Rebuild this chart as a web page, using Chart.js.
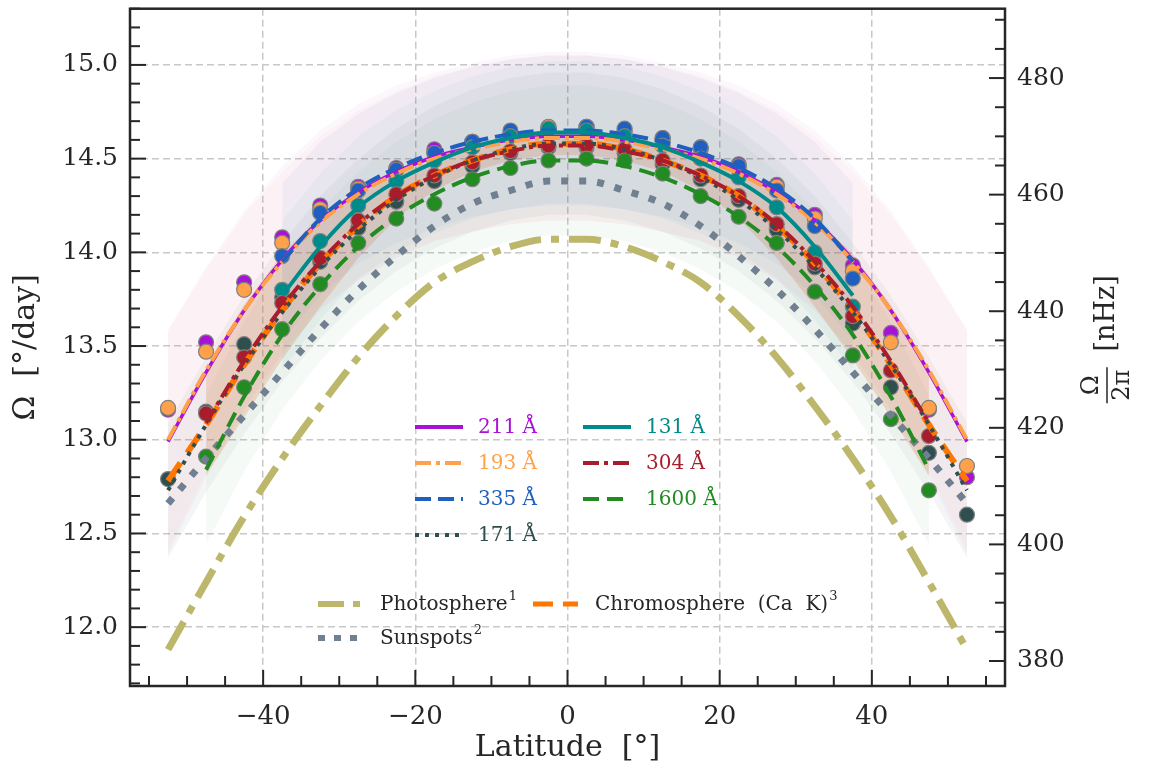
<!DOCTYPE html>
<html>
<head>
<meta charset="utf-8">
<script src="https://cdn.jsdelivr.net/npm/chart.js@4.4.1/dist/chart.umd.min.js"></script>
<style>
  html, body { margin: 0; padding: 0; background: #fff; }
  canvas { display: block; }
</style>
</head>
<body>
<canvas id="rotChart" width="1151" height="770"></canvas>
<script>
// measured latitudes (degrees) of the binned points
var latitudes = [-52.5, -47.5, -42.5, -37.5, -32.5, -27.5, -22.5, -17.5, -12.5, -7.5, -2.5,
                 2.5, 7.5, 12.5, 17.5, 22.5, 27.5, 32.5, 37.5, 42.5, 47.5, 52.5];

// rotation rates (deg/day) per wavelength, null where there is no bin
var pts211  = [13.16, 13.52, 13.84, 14.08, 14.25, 14.35, 14.45, 14.55, 14.59, 14.63, 14.66,
               14.67, 14.65, 14.61, 14.56, 14.47, 14.36, 14.20, 13.93, 13.57, 13.16, 12.80];
var pts193  = [13.17, 13.47, 13.80, 14.05, 14.23, 14.34, 14.44, 14.53, 14.59, 14.63, 14.67,
               14.66, 14.64, 14.60, 14.55, 14.45, 14.35, 14.18, 13.90, 13.52, 13.17, 12.86];
var pts335  = [null, null, null, 13.98, 14.21, 14.33, 14.44, 14.53, 14.59, 14.65, 14.66,
               14.67, 14.66, 14.61, 14.56, 14.46, 14.33, 14.14, 13.86, null, null, null];
var pts171  = [12.79, 13.15, 13.51, 13.76, 13.95, 14.13, 14.27, 14.38, 14.46, 14.53, 14.56,
               14.56, 14.53, 14.47, 14.39, 14.28, 14.12, 13.92, 13.62, 13.28, 12.93, 12.60];
var pts131  = [null, null, null, 13.80, 14.06, 14.25, 14.38, 14.49, 14.56, 14.62, 14.66,
               14.65, 14.62, 14.57, 14.50, 14.40, 14.24, 14.00, 13.71, null, null, null];
var pts304  = [null, 13.14, 13.44, 13.73, 13.97, 14.17, 14.31, 14.41, 14.48, 14.54, 14.57,
               14.57, 14.55, 14.49, 14.41, 14.30, 14.15, 13.94, 13.66, 13.37, 13.02, null];
var pts1600 = [null, 12.91, 13.28, 13.59, 13.83, 14.05, 14.18, 14.26, 14.39, 14.45, 14.49,
               14.50, 14.49, 14.42, 14.30, 14.19, 14.05, 13.79, 13.45, 13.11, 12.73, null];

// latitudes where the fitted profiles are sampled
var fitLatitudes = [-52.5, -47.5, -42.5, -37.5, -32.5, -27.5, -22.5, -17.5, -12.5, -7.5, -2.5, 0,
                    2.5, 7.5, 12.5, 17.5, 22.5, 27.5, 32.5, 37.5, 42.5, 47.5, 52.5];

var fit211  = [12.99, 13.36, 13.69, 13.96, 14.17, 14.32, 14.43, 14.51, 14.56, 14.60, 14.62, 14.62,
               14.62, 14.60, 14.56, 14.51, 14.43, 14.32, 14.17, 13.96, 13.69, 13.36, 12.99];
var fit193  = [13.00, 13.37, 13.69, 13.95, 14.16, 14.31, 14.42, 14.50, 14.55, 14.59, 14.61, 14.61,
               14.61, 14.59, 14.55, 14.50, 14.42, 14.31, 14.16, 13.95, 13.69, 13.37, 13.00];
var fit335  = [null, null, null, 13.95, 14.18, 14.34, 14.45, 14.53, 14.59, 14.63, 14.65, 14.65,
               14.65, 14.63, 14.59, 14.53, 14.45, 14.34, 14.18, 13.95, null, null, null];
var fit171  = [12.73, 13.08, 13.40, 13.68, 13.92, 14.12, 14.28, 14.40, 14.49, 14.55, 14.58, 14.58,
               14.58, 14.55, 14.49, 14.40, 14.28, 14.12, 13.92, 13.68, 13.40, 13.08, 12.73];
var fit131  = [null, null, null, 13.77, 14.03, 14.24, 14.38, 14.48, 14.56, 14.61, 14.64, 14.64,
               14.64, 14.61, 14.56, 14.48, 14.38, 14.24, 14.03, 13.77, null, null, null];
var fit304  = [null, 13.09, 13.42, 13.71, 13.95, 14.15, 14.30, 14.41, 14.49, 14.54, 14.57, 14.57,
               14.57, 14.54, 14.49, 14.41, 14.30, 14.15, 13.95, 13.71, 13.42, 13.09, null];
var fit1600 = [null, 12.84, 13.23, 13.56, 13.82, 14.03, 14.19, 14.31, 14.40, 14.46, 14.49, 14.49,
               14.49, 14.46, 14.40, 14.31, 14.19, 14.03, 13.82, 13.56, 13.23, 12.84, null];

// uncertainty of each fit (deg/day)
var err211  = [0.60, 0.56, 0.53, 0.50, 0.48, 0.47, 0.46, 0.45, 0.45, 0.45, 0.45, 0.45,
               0.45, 0.45, 0.45, 0.45, 0.46, 0.47, 0.48, 0.50, 0.53, 0.56, 0.60];
var err193  = [0.58, 0.54, 0.51, 0.48, 0.46, 0.45, 0.44, 0.44, 0.44, 0.44, 0.44, 0.44,
               0.44, 0.44, 0.44, 0.44, 0.44, 0.45, 0.46, 0.48, 0.51, 0.54, 0.58];
var err335  = [null, null, null, 0.42, 0.41, 0.40, 0.40, 0.40, 0.40, 0.40, 0.40, 0.40,
               0.40, 0.40, 0.40, 0.40, 0.40, 0.40, 0.41, 0.42, null, null, null];
var err171  = [0.36, 0.36, 0.37, 0.37, 0.38, 0.38, 0.38, 0.38, 0.38, 0.38, 0.38, 0.38,
               0.38, 0.38, 0.38, 0.38, 0.38, 0.38, 0.38, 0.37, 0.37, 0.36, 0.36];
var err131  = [null, null, null, 0.40, 0.39, 0.38, 0.38, 0.38, 0.38, 0.38, 0.38, 0.38,
               0.38, 0.38, 0.38, 0.38, 0.38, 0.38, 0.39, 0.40, null, null, null];
var err304  = [null, 0.28, 0.30, 0.28, 0.24, 0.18, 0.12, 0.08, 0.06, 0.05, 0.05, 0.05,
               0.05, 0.05, 0.06, 0.08, 0.12, 0.18, 0.24, 0.28, 0.30, 0.28, null];
var err1600 = [null, 0.40, 0.40, 0.40, 0.40, 0.40, 0.40, 0.40, 0.40, 0.40, 0.40, 0.40,
               0.40, 0.40, 0.40, 0.40, 0.40, 0.40, 0.40, 0.40, 0.40, 0.40, null];

// reference profiles from the literature
var photosphere  = [11.88, 12.24, 12.59, 12.90, 13.18, 13.44, 13.66, 13.84, 13.95, 14.03, 14.07, 14.07,
                    14.07, 14.03, 13.95, 13.84, 13.66, 13.44, 13.18, 12.90, 12.59, 12.24, 11.88];
var sunspots     = [12.66, 12.90, 13.13, 13.36, 13.59, 13.80, 13.98, 14.14, 14.26, 14.33, 14.38, 14.38,
                    14.38, 14.33, 14.26, 14.14, 13.98, 13.80, 13.59, 13.36, 13.13, 12.90, 12.66];
var chromosphere = [12.78, 13.08, 13.40, 13.69, 13.94, 14.14, 14.30, 14.41, 14.49, 14.55, 14.58, 14.58,
                    14.58, 14.55, 14.49, 14.41, 14.30, 14.14, 13.94, 13.69, 13.40, 13.08, 12.78];

var xTicks = [-40, -20, 0, 20, 40];
var yTicks = [12.0, 12.5, 13.0, 13.5, 14.0, 14.5, 15.0];
var nhzTicks = [380, 400, 420, 440, 460, 480];

// deg/day -> nHz
var NHZ = 1e9 / (360 * 86400);
var yMin = 11.686, yMax = 15.30;

var C211 = '#a812d6', C193 = '#ffa04a', C335 = '#1f5fbf', C171 = '#2f4f4f',
    C131 = '#008b8b', C304 = '#a81c2c', C1600 = '#228b22',
    CPHOTO = '#bdb76b', CSPOT = '#708090', CCHROMO = '#ff7700';

function xy(xs, ys, off) {
    var out = [];
    for (var i = 0; i < xs.length; i++) {
        if (ys[i] === null) continue;
        var d = off ? off[i] : 0;
        out.push({ x: xs[i], y: ys[i] + d });
    }
    return out;
}

function band(vals, errs, color) {
    var neg = errs.map(function (e) { return e === null ? null : -e; });
    return [
        { data: xy(fitLatitudes, vals, errs), fill: '+1', backgroundColor: color,
          borderWidth: 0, pointRadius: 0, tension: 0, order: 30 },
        { data: xy(fitLatitudes, vals, neg), fill: false, backgroundColor: color,
          borderWidth: 0, pointRadius: 0, tension: 0, order: 30 }
    ];
}

function fitLine(vals, color, width, dash, order) {
    return { data: xy(fitLatitudes, vals), borderColor: color, borderWidth: width,
             borderDash: dash, fill: false, pointRadius: 0,
             cubicInterpolationMode: 'monotone', order: order || 5 };
}

function dots(vals, color) {
    return { data: xy(latitudes, vals), showLine: false, pointRadius: 7.5,
             pointBackgroundColor: color, pointBorderColor: '#808080',
             pointBorderWidth: 1.2, order: 20 };
}

var datasets = [].concat(
    band(fit211, err211, 'rgba(168,18,214,0.04)'),
    band(fit193, err193, 'rgba(255,160,74,0.045)'),
    band(fit335, err335, 'rgba(31,95,191,0.05)'),
    band(fit171, err171, 'rgba(47,79,79,0.05)'),
    band(fit131, err131, 'rgba(0,128,128,0.05)'),
    band(fit304, err304, 'rgba(232,140,80,0.26)'),
    band(fit1600, err1600, 'rgba(34,139,34,0.04)'),
    [
        dots(pts1600, C1600), dots(pts304, C304), dots(pts131, C131), dots(pts171, C171),
        dots(pts335, C335), dots(pts193, C193), dots(pts211, C211),
        fitLine(photosphere, CPHOTO, 7, [32, 10, 8, 10], 8),
        fitLine(sunspots, CSPOT, 7, [7, 11], 8),
        fitLine(chromosphere, CCHROMO, 6, [22, 12], 8),
        fitLine(fit1600, C1600, 4, [16, 8]),
        fitLine(fit304, C304, 4, [16, 5, 4, 5]),
        fitLine(fit131, C131, 4, []),
        fitLine(fit171, C171, 4, [4, 6]),
        fitLine(fit335, C335, 4, [16, 7]),
        fitLine(fit193, C193, 4, [16, 5, 4, 5]),
        fitLine(fit211, C211, 3.5, [])
    ]
);

var FONT = '"DejaVu Serif", serif';
var INK = '#262626';

// inward ticks, frame, axis titles and the two in-plot legends
var decorations = {
    id: 'decorations',
    afterDraw: function (chart) {
        var ctx = chart.ctx, a = chart.chartArea, s = chart.scales;
        ctx.save();
        ctx.strokeStyle = INK;
        ctx.lineCap = 'butt';
        ctx.lineWidth = 2;
        function seg(x1, y1, x2, y2) {
            ctx.beginPath(); ctx.moveTo(x1, y1); ctx.lineTo(x2, y2); ctx.stroke();
        }
        var v, p;
        for (v = -55; v <= 55; v += 5) {
            p = s.x.getPixelForValue(v);
            seg(p, a.bottom, p, a.bottom - (v % 20 === 0 ? 16 : 10));
        }
        for (var k = 117; k <= 153; k++) {
            p = s.y.getPixelForValue(k / 10);
            seg(a.left, p, a.left + (k % 5 === 0 ? 16 : 10), p);
        }
        for (v = 375; v <= 490; v += 5) {
            p = s.y2.getPixelForValue(v);
            if (p < a.top || p > a.bottom) continue;
            seg(a.right, p, a.right - (v % 20 === 0 ? 16 : 10), p);
        }
        ctx.lineWidth = 2.5;
        ctx.strokeRect(a.left, a.top, a.right - a.left, a.bottom - a.top);

        // axis titles
        ctx.fillStyle = INK;
        ctx.textAlign = 'center';
        ctx.textBaseline = 'middle';
        ctx.font = '30px ' + FONT;
        ctx.fillText('Latitude  [\u00b0]', (a.left + a.right) / 2, 748);

        ctx.save();
        ctx.translate(26, (a.top + a.bottom) / 2);
        ctx.rotate(-Math.PI / 2);
        ctx.fillText('\u03a9  [\u00b0/day]', 0, 0);
        ctx.restore();

        ctx.save();
        ctx.translate(1107, (a.top + a.bottom) / 2);
        ctx.rotate(-Math.PI / 2);
        ctx.font = '27px ' + FONT;
        ctx.fillText('[nHz]', 34, 0);
        ctx.font = '24px ' + FONT;
        ctx.fillText('\u03a9', -38, -15);
        ctx.fillText('2\u03c0', -38, 16);
        ctx.lineWidth = 1.5;
        seg(-56, 0, -20, 0);
        ctx.restore();

        // wavelength legend
        function sample(x1, x2, y, color, width, dash) {
            ctx.save();
            ctx.strokeStyle = color;
            ctx.lineWidth = width;
            ctx.setLineDash(dash);
            seg(x1, y, x2, y);
            ctx.restore();
        }
        var rows = [
            ['211 \u00c5', C211, 4, [], 415, 427],
            ['193 \u00c5', C193, 4, [16, 5, 4, 5], 415, 463],
            ['335 \u00c5', C335, 4, [16, 7], 415, 499],
            ['171 \u00c5', C171, 4, [4, 6], 415, 535],
            ['131 \u00c5', C131, 4, [], 583, 427],
            ['304 \u00c5', C304, 4, [16, 5, 4, 5], 583, 463],
            ['1600 \u00c5', C1600, 4, [16, 8], 583, 499]
        ];
        ctx.textAlign = 'left';
        ctx.font = '20px ' + FONT;
        rows.forEach(function (r) {
            sample(r[4], r[4] + 48, r[5], r[1], r[2], r[3]);
            ctx.fillStyle = r[1];
            ctx.fillText(r[0], r[4] + 63, r[5] + 1);
        });

        // literature legend
        var refs = [
            ['Photosphere', '1', CPHOTO, 6, [26, 9, 7, 9], 318, 604],
            ['Sunspots', '2', CSPOT, 6, [7, 9], 318, 638],
            ['Chromosphere  (Ca  K)', '3', CCHROMO, 5, [20, 10], 533, 604]
        ];
        refs.forEach(function (r) {
            sample(r[5], r[5] + 45, r[6], r[2], r[3], r[4]);
            ctx.fillStyle = INK;
            ctx.font = '20px ' + FONT;
            ctx.fillText(r[0], r[5] + 62, r[6] + 1);
            var w = ctx.measureText(r[0]).width;
            ctx.font = '13px ' + FONT;
            ctx.fillText(r[1], r[5] + 63 + w, r[6] - 7);
        });
        ctx.restore();
    }
};

new Chart(document.getElementById('rotChart'), {
    type: 'line',
    data: { datasets: datasets },
    options: {
        responsive: false,
        animation: false,
        layout: { padding: { top: 8, left: 0, right: 0, bottom: 0 } },
        plugins: { legend: { display: false }, tooltip: { enabled: false } },
        scales: {
            x: {
                type: 'linear', min: -57.5, max: 57.5,
                afterBuildTicks: function (sc) { sc.ticks = xTicks.map(function (v) { return { value: v }; }); },
                afterFit: function (sc) { sc.height = 84; sc.paddingLeft = 0; sc.paddingRight = 0; },
                grid: { color: '#c8c8c8', lineWidth: 1.5, drawTicks: false },
                border: { display: false, dash: [7, 4] },
                ticks: {
                    padding: 16, color: INK, font: { family: FONT, size: 26 },
                    callback: function (v) { return String(v).replace('-', '\u2212'); }
                }
            },
            y: {
                type: 'linear', min: yMin, max: yMax,
                afterBuildTicks: function (sc) { sc.ticks = yTicks.map(function (v) { return { value: v }; }); },
                afterFit: function (sc) { sc.width = 130; sc.paddingTop = 0; sc.paddingBottom = 0; },
                grid: { color: '#c8c8c8', lineWidth: 1.5, drawTicks: false },
                border: { display: false, dash: [7, 4] },
                ticks: {
                    padding: 12, color: INK, font: { family: FONT, size: 25 },
                    callback: function (v) { return v.toFixed(1); }
                }
            },
            y2: {
                type: 'linear', position: 'right', min: yMin * NHZ, max: yMax * NHZ,
                afterBuildTicks: function (sc) { sc.ticks = nhzTicks.map(function (v) { return { value: v }; }); },
                afterFit: function (sc) { sc.width = 146; sc.paddingTop = 0; sc.paddingBottom = 0; },
                grid: { display: false, drawTicks: false },
                border: { display: false },
                ticks: { padding: 12, color: INK, font: { family: FONT, size: 25 } }
            }
        }
    },
    plugins: [decorations]
});
</script>
</body>
</html>
